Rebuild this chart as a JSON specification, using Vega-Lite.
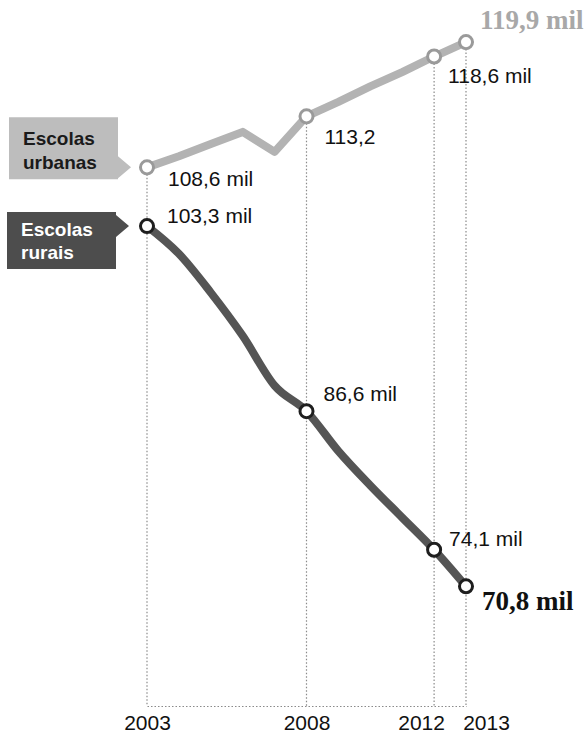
{
  "$schema": "https://vega.github.io/schema/vega-lite/v6.json",
  "width": 319,
  "height": 706,
  "autosize": {"type": "none"},
  "padding": {"left": 147, "top": 0, "right": 121, "bottom": 27},
  "background": "white",
  "config": {"view": {"stroke": null}},
  "data": {
    "values": [
      {"year": 2003, "series": "Escolas urbanas", "value": 108.6, "label": "108,6 mil"},
      {"year": 2004, "series": "Escolas urbanas", "value": 109.6, "label": null},
      {"year": 2005, "series": "Escolas urbanas", "value": 110.7, "label": null},
      {"year": 2006, "series": "Escolas urbanas", "value": 111.8, "label": null},
      {"year": 2007, "series": "Escolas urbanas", "value": 110.0, "label": null},
      {"year": 2008, "series": "Escolas urbanas", "value": 113.2, "label": "113,2"},
      {"year": 2009, "series": "Escolas urbanas", "value": 114.5, "label": null},
      {"year": 2010, "series": "Escolas urbanas", "value": 115.9, "label": null},
      {"year": 2011, "series": "Escolas urbanas", "value": 117.2, "label": null},
      {"year": 2012, "series": "Escolas urbanas", "value": 118.6, "label": "118,6 mil"},
      {"year": 2013, "series": "Escolas urbanas", "value": 119.9, "label": "119,9 mil"},
      {"year": 2003, "series": "Escolas rurais", "value": 103.3, "label": "103,3 mil"},
      {"year": 2004, "series": "Escolas rurais", "value": 100.8, "label": null},
      {"year": 2005, "series": "Escolas rurais", "value": 97.3, "label": null},
      {"year": 2006, "series": "Escolas rurais", "value": 93.4, "label": null},
      {"year": 2007, "series": "Escolas rurais", "value": 88.9, "label": null},
      {"year": 2008, "series": "Escolas rurais", "value": 86.6, "label": "86,6 mil"},
      {"year": 2009, "series": "Escolas rurais", "value": 83.0, "label": null},
      {"year": 2010, "series": "Escolas rurais", "value": 79.9, "label": null},
      {"year": 2011, "series": "Escolas rurais", "value": 77.0, "label": null},
      {"year": 2012, "series": "Escolas rurais", "value": 74.1, "label": "74,1 mil"},
      {"year": 2013, "series": "Escolas rurais", "value": 70.8, "label": "70,8 mil"}
    ]
  },
  "encoding": {
    "x": {
      "field": "year",
      "type": "quantitative",
      "scale": {"domain": [2003, 2013], "nice": false, "zero": false},
      "axis": {
        "title": null,
        "values": [2003, 2008, 2012, 2013],
        "format": "d",
        "ticks": false,
        "grid": false,
        "labelFont": "Liberation Sans",
        "labelFontSize": 21,
        "labelColor": "#111111",
        "labelPadding": 6,
        "labelBaseline": "top",
        "labelFlush": false,
        "labelOverlap": false,
        "labelOffset": {
          "condition": [
            {"test": "datum.value == 2012", "value": -13},
            {"test": "datum.value == 2013", "value": 20}
          ],
          "value": 0
        },
        "domainColor": "#8a8a8a",
        "domainDash": [1.5, 2],
        "domainWidth": 1.2
      }
    },
    "y": {
      "field": "value",
      "type": "quantitative",
      "scale": {"domain": [60, 123.7], "nice": false, "zero": false},
      "axis": null
    }
  },
  "layer": [
    {
      "transform": [{"filter": "datum.series == 'Escolas urbanas' && datum.label != null"}],
      "mark": {"type": "rule", "color": "#8a8a8a", "strokeDash": [1.5, 2], "strokeWidth": 1.2},
      "encoding": {"y2": {"datum": 60}}
    },
    {
      "transform": [{"filter": "datum.series == 'Escolas urbanas'"}],
      "mark": {"type": "line", "color": "#b3b3b3", "strokeWidth": 8, "strokeJoin": "round", "strokeCap": "round"}
    },
    {
      "transform": [{"filter": "datum.series == 'Escolas rurais'"}],
      "mark": {"type": "line", "color": "#555555", "strokeWidth": 8, "interpolate": "monotone", "strokeCap": "round"}
    },
    {
      "transform": [{"filter": "datum.series == 'Escolas urbanas' && datum.year == 2003"}],
      "mark": {
        "type": "point",
        "shape": "M-1.38,-0.5L-0.29,-0.5L-0.29,-0.11L-0.16,0L-0.29,0.11L-0.29,0.12L-1.38,0.12Z",
        "size": 40000,
        "filled": true,
        "fill": "#bdbdbd",
        "opacity": 1,
        "strokeWidth": 0
      }
    },
    {
      "transform": [{"filter": "datum.series == 'Escolas rurais' && datum.year == 2003"}],
      "mark": {
        "type": "point",
        "shape": "M-1.40,-0.14L-0.31,-0.14L-0.31,-0.11L-0.18,0L-0.31,0.11L-0.31,0.43L-1.40,0.43Z",
        "size": 40000,
        "filled": true,
        "fill": "#4d4d4d",
        "opacity": 1,
        "strokeWidth": 0
      }
    },
    {
      "transform": [{"filter": "datum.series == 'Escolas urbanas' && datum.year == 2003"}],
      "mark": {
        "type": "text",
        "text": ["Escolas", "urbanas"],
        "align": "left",
        "baseline": "alphabetic",
        "dx": -124,
        "dy": -22,
        "lineHeight": 24,
        "font": "Liberation Sans",
        "fontSize": 19,
        "fontWeight": "bold",
        "fill": "#1a1a1a"
      }
    },
    {
      "transform": [{"filter": "datum.series == 'Escolas rurais' && datum.year == 2003"}],
      "mark": {
        "type": "text",
        "text": ["Escolas", "rurais"],
        "align": "left",
        "baseline": "alphabetic",
        "dx": -126,
        "dy": 10,
        "lineHeight": 23,
        "font": "Liberation Sans",
        "fontSize": 19,
        "fontWeight": "bold",
        "fill": "#ffffff"
      }
    },
    {
      "transform": [{"filter": "datum.label != null"}],
      "mark": {"type": "point", "filled": true, "fill": "white", "size": 170, "strokeWidth": 3, "opacity": 1},
      "encoding": {
        "stroke": {
          "field": "series",
          "type": "nominal",
          "scale": {"domain": ["Escolas urbanas", "Escolas rurais"], "range": ["#9a9a9a", "#1e1e1e"]},
          "legend": null
        }
      }
    },
    {
      "transform": [{"filter": "datum.series == 'Escolas urbanas' && datum.year == 2003"}],
      "mark": {"type": "text", "align": "left", "baseline": "middle", "dx": 21, "dy": 13, "font": "Liberation Sans", "fontSize": 21, "fill": "#111111"},
      "encoding": {"text": {"field": "label"}}
    },
    {
      "transform": [{"filter": "datum.series == 'Escolas urbanas' && datum.year == 2008"}],
      "mark": {"type": "text", "align": "left", "baseline": "middle", "dx": 18, "dy": 22, "font": "Liberation Sans", "fontSize": 21, "fill": "#111111"},
      "encoding": {"text": {"field": "label"}}
    },
    {
      "transform": [{"filter": "datum.series == 'Escolas urbanas' && datum.year == 2012"}],
      "mark": {"type": "text", "align": "left", "baseline": "middle", "dx": 14, "dy": 20, "font": "Liberation Sans", "fontSize": 21, "fill": "#111111"},
      "encoding": {"text": {"field": "label"}}
    },
    {
      "transform": [{"filter": "datum.series == 'Escolas urbanas' && datum.year == 2013"}],
      "mark": {"type": "text", "align": "left", "baseline": "middle", "dx": 14, "dy": -21, "font": "Liberation Serif", "fontSize": 27, "fontWeight": "bold", "fill": "#a8a8a8"},
      "encoding": {"text": {"field": "label"}}
    },
    {
      "transform": [{"filter": "datum.series == 'Escolas rurais' && datum.year == 2003"}],
      "mark": {"type": "text", "align": "left", "baseline": "middle", "dx": 20, "dy": -9, "font": "Liberation Sans", "fontSize": 21, "fill": "#111111"},
      "encoding": {"text": {"field": "label"}}
    },
    {
      "transform": [{"filter": "datum.series == 'Escolas rurais' && datum.year == 2008"}],
      "mark": {"type": "text", "align": "left", "baseline": "middle", "dx": 17, "dy": -16, "font": "Liberation Sans", "fontSize": 21, "fill": "#111111"},
      "encoding": {"text": {"field": "label"}}
    },
    {
      "transform": [{"filter": "datum.series == 'Escolas rurais' && datum.year == 2012"}],
      "mark": {"type": "text", "align": "left", "baseline": "middle", "dx": 15, "dy": -10, "font": "Liberation Sans", "fontSize": 21, "fill": "#111111"},
      "encoding": {"text": {"field": "label"}}
    },
    {
      "transform": [{"filter": "datum.series == 'Escolas rurais' && datum.year == 2013"}],
      "mark": {"type": "text", "align": "left", "baseline": "middle", "dx": 16, "dy": 16, "font": "Liberation Serif", "fontSize": 27, "fontWeight": "bold", "fill": "#111111"},
      "encoding": {"text": {"field": "label"}}
    }
  ]
}
